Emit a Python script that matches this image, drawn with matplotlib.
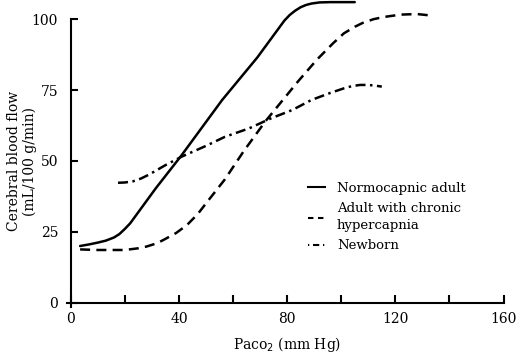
import matplotlib
matplotlib.use("Agg")
import matplotlib.pyplot as plt
from matplotlib.lines import Line2D

# values (PaCO2 mm Hg, CBF mL/100 g/min)
normo_x = [3.5, 7, 10, 13, 16, 18, 20, 22, 31.5, 41, 56, 69, 79, 81, 83, 85, 87, 89, 92, 96, 105]
normo_y = [20, 20.6, 21.2, 21.9, 23, 24.2, 26, 28, 40.4, 52, 71.5, 86.5, 99.5, 101.5, 103, 104.2, 105, 105.5, 105.9, 106, 106]

hyper_x = [3.5, 10, 20, 25, 28, 32, 35, 39, 43, 47, 50, 57, 64, 72, 78, 84, 91, 97, 101, 105, 108, 112, 116, 122, 128, 134]
hyper_y = [18.8, 18.6, 18.6, 19.2, 19.8, 21, 22.5, 24.6, 27.4, 31.3, 35, 43.5, 53.5, 64, 71, 78, 85.7, 91.5, 95, 97.3, 98.7, 100, 100.8, 101.6, 101.8, 101.2]

newborn_x = [17.5, 20, 23, 26, 29, 35, 41, 50, 57, 66, 74, 82, 89, 96, 101, 104, 107, 110, 113, 115]
newborn_y = [42.3, 42.4, 42.8, 43.8, 45.2, 48.5, 51.5, 55.3, 58.5, 61.5, 65, 68, 71.5, 74, 75.6, 76.4, 76.8, 76.8, 76.5, 76.2]

labels = ["Normocapnic adult", "Adult with chronic\nhypercapnia", "Newborn"]

plt.rcParams['font.family'] = ['DejaVu Serif']

fig = plt.figure(figsize=(5.17, 3.58), dpi=100)
ax = fig.add_axes([0.1288, 0.1425, 0.974 - 0.1288, 0.998 - 0.1425])

lw = 1.8
ax.plot(normo_x, normo_y, color='black', lw=lw, solid_capstyle='round', solid_joinstyle='round',
        clip_on=False)
ax.plot(hyper_x, hyper_y, color='black', lw=lw, dashes=(4, 2.5), clip_on=False)
ax.plot(newborn_x, newborn_y, color='black', lw=lw, dashes=(4, 1.8, 1, 1.8), clip_on=False)

ax.set_xlim(-1.5, 160)
ax.set_ylim(-1.5, 106.5)

for s in ['top', 'right']:
    ax.spines[s].set_visible(False)
ax.spines['left'].set_position(('data', 0))
ax.spines['bottom'].set_position(('data', 0))
ax.spines['left'].set_bounds(-1.5, 100)
ax.spines['bottom'].set_bounds(-1.5, 160)
ax.spines['left'].set_linewidth(1.5)
ax.spines['bottom'].set_linewidth(1.5)

ax.set_xticks([0, 40, 80, 120, 160])
ax.set_xticks([20, 60, 100, 140], minor=True)
ax.set_yticks([0, 25, 50, 75, 100])
ax.tick_params(axis='x', which='both', direction='in', length=6, width=1.5, pad=7, labelsize=10)
ax.tick_params(axis='y', which='major', direction='in', length=5, width=1.5, pad=9, labelsize=10)

fig.text(22 / 517, 1 - 161 / 358, "Cerebral blood flow\n(mL/100 g/min)", rotation=90,
         ha='center', va='center', multialignment='center', fontsize=10)
fig.text(287 / 517, 1 - 345 / 358, "Paco$_2$ (mm Hg)", ha='center', va='center', fontsize=10)

# short legend samples, like the printed key
handles = [
    Line2D([], [], color='black', lw=1.5),
    Line2D([], [], color='black', lw=1.5, dashes=(2.6, 2.2)),
    Line2D([], [], color='black', lw=1.5, dashes=(0.6, 1.8, 3, 1.8)),
]
leg = ax.legend(handles, labels, loc='upper left', bbox_to_anchor=(296 / 517, 1 - 170 / 358),
                bbox_transform=fig.transFigure, frameon=False, handlelength=1.3, handletextpad=0.9,
                labelspacing=0.55, fontsize=9.5)
for t in leg.get_texts():
    t.set_linespacing(1.4)

fig.savefig("out.png", dpi=100)
